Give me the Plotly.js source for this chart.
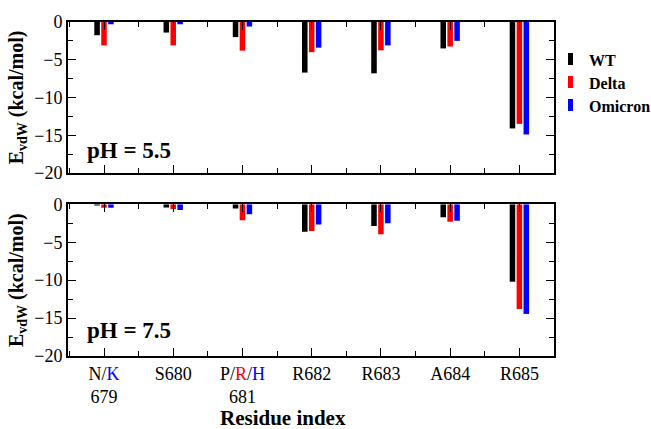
<!DOCTYPE html>
<html>
<head>
<meta charset="utf-8">
<script src="https://cdn.plot.ly/plotly-3.0.1.min.js"></script>
<style>html,body{margin:0;padding:0;background:#fff;}#chart{width:651px;height:429px;}</style>
</head>
<body>
<div id="chart"></div>
<script>
// Data
var residues = ["N/<span style=\"color:#0000ff\">K</span><br>679", "S680",
  "P/<span style=\"color:#ff0000\">R</span>/<span style=\"color:#0000ff\">H</span><br>681",
  "R682", "R683", "A684", "R685"];
var residuePos = [0, 1, 2, 3, 4, 5, 6];
var seriesNames = ["WT", "Delta", "Omicron"];
var seriesColors = ["#000000", "#ff0000", "#0000ff"];

// pH = 5.5
var wt55 = [-1.75, -1.4, -2.0, -6.7, -6.8, -3.5, -14.1];
var delta55 = [-3.1, -3.1, -3.8, -4.0, -3.75, -3.25, -13.5];
var omicron55 = [-0.3, -0.3, -0.6, -3.4, -3.1, -2.5, -14.9];

// pH = 7.5
var wt75 = [-0.15, -0.4, -0.55, -3.6, -2.85, -1.7, -10.2];
var delta75 = [-0.45, -0.6, -2.1, -3.5, -3.95, -2.3, -13.8];
var omicron75 = [-0.45, -0.75, -1.3, -2.65, -2.5, -2.15, -14.45];

var panelLabels = ["pH = 5.5", "pH = 7.5"];

var font = "Liberation Serif, Times New Roman, serif";
var data55 = [wt55, delta55, omicron55];
var data75 = [wt75, delta75, omicron75];
var traces = [];
for (var i = 0; i < 3; i++) {
  traces.push({type: "bar", x: residuePos, y: data55[i], name: seriesNames[i],
    marker: {color: seriesColors[i], line: {width: 0}}, xaxis: "x", yaxis: "y", showlegend: false});
}
for (var i = 0; i < 3; i++) {
  traces.push({type: "bar", x: residuePos, y: data75[i], name: seriesNames[i],
    marker: {color: seriesColors[i], line: {width: 0}}, xaxis: "x2", yaxis: "y2", showlegend: false});
}

var W = 651, H = 429, ml = 68, mr = 97, mt = 22, mb = 73;
var pw = W - ml - mr, ph = H - mt - mb;
function px2x(p) { return (p - ml) / pw; }
function py2y(p) { return (H - mb - p) / ph; }

var xBase = {
  range: [-0.52, 6.5], showline: true, linecolor: "#000", linewidth: 2, mirror: "ticks",
  ticks: "inside", ticklen: 8, tickwidth: 1, tickcolor: "#000",
  tickmode: "array", tickvals: residuePos, showgrid: false, zeroline: false,
  minor: {tickmode: "linear", tick0: 0.5, dtick: 1, ticks: "inside", ticklen: 5, tickcolor: "#000", tickwidth: 1, showgrid: false}
};
var yBase = {
  range: [-20, 0], showline: true, linecolor: "#000", linewidth: 2, mirror: "ticks",
  ticks: "inside", ticklen: 8, tickwidth: 1, tickcolor: "#000",
  tickmode: "linear", tick0: 0, dtick: 5, showgrid: false, zeroline: false,
  tickfont: {family: font, size: 18, color: "#000"},
  minor: {tickmode: "linear", tick0: 0, dtick: 2.5, ticks: "inside", ticklen: 5, tickcolor: "#000", tickwidth: 1, showgrid: false},
  title: {text: "<b>E<sub>vdW</sub> (kcal/mol)</b>", font: {family: font, size: 20, color: "#000"}, standoff: 5}
};

var layout = {
  width: W, height: H, margin: {l: ml, r: mr, t: mt, b: mb},
  paper_bgcolor: "#fff", plot_bgcolor: "#fff",
  barmode: "group", bargap: 0.7, bargroupgap: 0.2,
  font: {family: font, color: "#000"},
  xaxis: Object.assign({}, xBase, {anchor: "y", showticklabels: false, ticktext: residues}),
  yaxis: Object.assign({}, yBase, {domain: [0.548, 1], anchor: "x"}),
  xaxis2: Object.assign({}, xBase, {anchor: "y2", showticklabels: true, ticktext: residues,
    tickfont: {family: font, size: 18, color: "#000"}}),
  yaxis2: Object.assign({}, yBase, {domain: [0, 0.454], anchor: "x2"}),
  shapes: [],
  annotations: [
    {xref: "paper", yref: "paper", x: px2x(85), y: py2y(150), xanchor: "left", yanchor: "middle",
     text: "<b>" + panelLabels[0] + "</b>", showarrow: false, font: {family: font, size: 23, color: "#000"}},
    {xref: "paper", yref: "paper", x: px2x(85), y: py2y(330), xanchor: "left", yanchor: "middle",
     text: "<b>" + panelLabels[1] + "</b>", showarrow: false, font: {family: font, size: 23, color: "#000"}},
    {xref: "paper", yref: "paper", x: px2x(283), y: py2y(418), xanchor: "center", yanchor: "middle",
     text: "<b>Residue index</b>", showarrow: false, font: {family: font, size: 21, color: "#000"}}
  ]
};

var legendY = [59, 82, 105];
for (var i = 0; i < 3; i++) {
  layout.shapes.push({type: "rect", xref: "paper", yref: "paper",
    x0: px2x(568), x1: px2x(573), y0: py2y(legendY[i] - 6), y1: py2y(legendY[i] + 6),
    fillcolor: seriesColors[i], line: {width: 0}});
  layout.annotations.push({xref: "paper", yref: "paper", x: px2x(587), y: py2y(legendY[i] + 1),
    xanchor: "left", yanchor: "middle", text: "<b>" + seriesNames[i] + "</b>", showarrow: false,
    font: {family: font, size: 16, color: "#000"}});
}

Plotly.newPlot("chart", traces, layout, {displayModeBar: false, staticPlot: true});
</script>
</body>
</html>
